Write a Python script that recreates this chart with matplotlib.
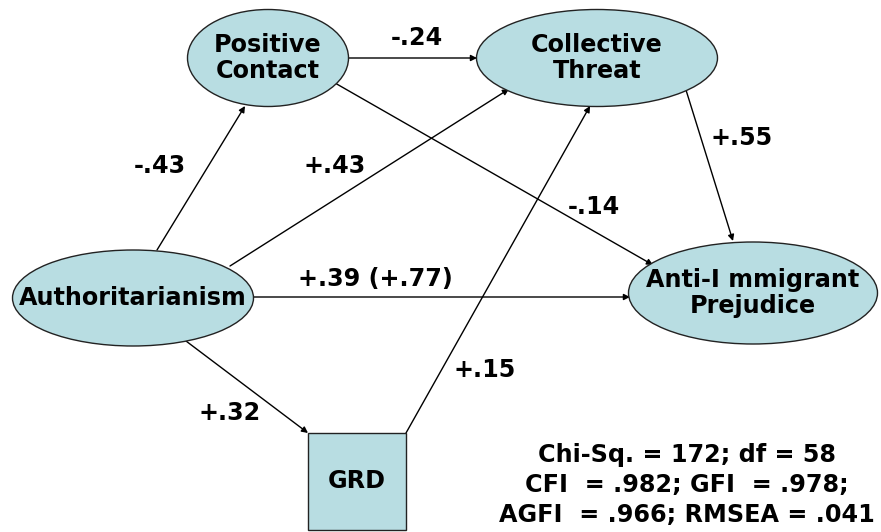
import matplotlib.pyplot as plt
from matplotlib.patches import Ellipse, Rectangle

# data: variables, path coefficients, fit stats
nodes = ["Positive\nContact", "Collective\nThreat", "Anti-I mmigrant\nPrejudice",
         "Authoritarianism", "GRD"]
paths = [("Authoritarianism", "Positive\nContact"),
         ("Authoritarianism", "Collective\nThreat"),
         ("Positive\nContact", "Collective\nThreat"),
         ("Positive\nContact", "Anti-I mmigrant\nPrejudice"),
         ("Collective\nThreat", "Anti-I mmigrant\nPrejudice"),
         ("Authoritarianism", "Anti-I mmigrant\nPrejudice"),
         ("Authoritarianism", "GRD"),
         ("GRD", "Collective\nThreat")]
coefs = ["-.43", "+.43", "-.24", "-.14", "+.55", "+.39 (+.77)", "+.32", "+.15"]
fit_lines = ["Chi-Sq. = 172; df = 58",
             "CFI  = .982; GFI  = .978;",
             "AGFI  = .966; RMSEA = .041"]

# layout (pixel coords of the 881x532 canvas)
shape = {nodes[0]: ("e", 268, 58, 161, 97),
         nodes[1]: ("e", 597, 58, 241, 97),
         nodes[2]: ("e", 753, 293, 249, 102),
         nodes[3]: ("e", 133, 298, 241, 96),
         nodes[4]: ("r", 357, 481, 98, 97)}
ends = [((157, 250), (245, 106)),
        ((230, 266), (509, 89)),
        ((349, 58), (477, 58)),
        ((335, 83), (653, 265)),
        ((686, 90), (733, 241)),
        ((253, 297), (630, 297)),
        ((182, 338), (308, 433)),
        ((406, 433), (590, 106))]
label_pos = [(160, 166), (335, 166), (417, 38), (594, 207),
             (742, 138), (375, 279), (230, 413), (485, 370)]

fill = "#b8dde2"
fs = 17.2

fig = plt.figure(figsize=(8.81, 5.32), dpi=100)
ax = fig.add_axes([0, 0, 1, 1])
ax.set_xlim(0, 881)
ax.set_ylim(532, 0)
ax.axis("off")

for (a, b), (p0, p1) in zip(paths, ends):
    ax.annotate("", xy=p1, xytext=p0,
                arrowprops=dict(arrowstyle="-|>", color="black", lw=1,
                                mutation_scale=9, shrinkA=0, shrinkB=0))

for name in nodes:
    kind, cx, cy, w, h = shape[name]
    if kind == "e":
        ax.add_patch(Ellipse((cx, cy), w, h, fc=fill, ec="#222222", lw=1, zorder=3))
    else:
        ax.add_patch(Rectangle((cx - w / 2, cy - h / 2), w, h, fc=fill, ec="#222222",
                               lw=1, zorder=3))
    ax.text(cx, cy, name, ha="center", va="center", fontsize=fs,
            fontweight="bold", linespacing=1.1, zorder=4)

for c, (x, y) in zip(coefs, label_pos):
    ax.text(x, y, c, ha="center", va="center", fontsize=fs, fontweight="bold")

for i, line in enumerate(fit_lines):
    ax.text(687, 455 + i * 30, line, ha="center", va="center", fontsize=fs,
            fontweight="bold")

fig.savefig("out.png", dpi=100)
